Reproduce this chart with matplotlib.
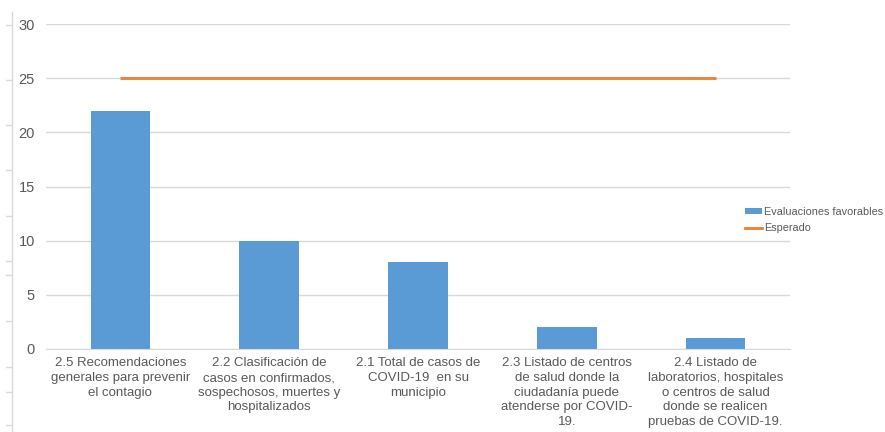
import matplotlib
matplotlib.use("Agg")
import matplotlib.pyplot as plt
from matplotlib.lines import Line2D
from matplotlib.patches import Patch

plt.rcParams['font.family'] = ['Liberation Sans', 'DejaVu Sans']

categories = [
    "2.5 Recomendaciones\ngenerales para prevenir\nel contagio",
    "2.2 Clasificación de\ncasos en confirmados,\nsospechosos, muertes y\nhospitalizados",
    "2.1 Total de casos de\nCOVID-19  en su\nmunicipio",
    "2.3 Listado de centros\nde salud donde la\nciudadanía puede\natenderse por COVID-\n19.",
    "2.4 Listado de\nlaboratorios, hospitales\no centros de salud\ndonde se realicen\npruebas de COVID-19.",
]
favorables = [22, 10, 8, 2, 1]
esperado = [25, 25, 25, 25, 25]
yticks = [0, 5, 10, 15, 20, 25, 30]

BLUE = "#5B9BD5"
ORANGE = "#ED7D31"
GRAY = "#595959"
GRID = "#D9D9D9"

W, H = 885, 432
fig = plt.figure(figsize=(W / 100, H / 100), dpi=100)
left, right, top, bottom = 46, 790, 24, 349
ax = fig.add_axes([left / W, (H - bottom) / H, (right - left) / W, (bottom - top) / H])

x = list(range(len(categories)))
ax.bar(x, favorables, width=0.4, color=BLUE, zorder=2)
ax.plot(x, esperado, color=ORANGE, linewidth=2, solid_capstyle='butt', zorder=3)

ax.set_xlim(-0.5, len(categories) - 0.5)
ax.set_ylim(0, 30)
ax.set_yticks(yticks)
ax.set_yticklabels([str(v) for v in yticks], fontsize=10.5, color=GRAY)
ax.set_xticks(x)
ax.set_xticklabels(categories, fontsize=9.5, color=GRAY, linespacing=1.3)
ax.tick_params(axis='x', length=0, pad=6)
ax.tick_params(axis='y', length=0, pad=8)
ax.grid(axis='y', color=GRID, linewidth=1, zorder=0)
for name, s in ax.spines.items():
    s.set_visible(name == 'bottom')
ax.spines['bottom'].set_color(GRID)

# faint ruler on the far left
fig.add_artist(Line2D([12 / W, 12 / W], [0, (H - 12) / H], color=GRID, linewidth=1))
for ty in [25, 80, 125, 170, 216, 261, 275, 321, 367, 392, 425]:
    fig.add_artist(Line2D([6 / W, 12 / W], [(H - ty) / H] * 2, color=GRID, linewidth=1))

handles = [Patch(facecolor=BLUE, edgecolor='none'),
           Line2D([0], [0], color=ORANGE, linewidth=2)]
fig.legend(handles, ["Evaluaciones favorables", "Esperado"],
           loc='center left', bbox_to_anchor=(745 / W, (H - 220) / H),
           frameon=False, fontsize=7.8, labelcolor=GRAY,
           handlelength=1.6, handletextpad=0.15, handleheight=0.45,
           labelspacing=0.6, borderaxespad=0, borderpad=0)

fig.savefig("out.png", dpi=100)
